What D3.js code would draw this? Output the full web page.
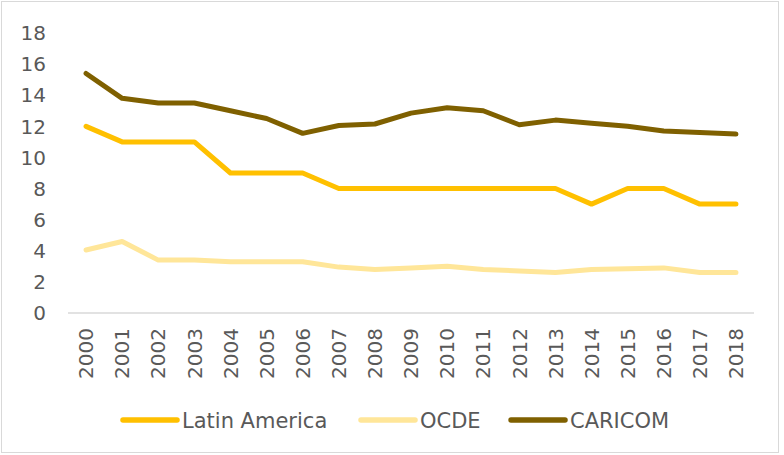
<!DOCTYPE html>
<html>
<head>
<meta charset="utf-8">
<script src="https://cdn.jsdelivr.net/npm/d3@7"></script>
<style>
  body { margin: 0; background: #fff; }
  text { font-family: "DejaVu Sans", Verdana, sans-serif; fill: #595959; }
</style>
</head>
<body>
<div id="chart"></div>
<script>
var years = ["2000","2001","2002","2003","2004","2005","2006","2007","2008","2009",
             "2010","2011","2012","2013","2014","2015","2016","2017","2018"];
var latinAmerica = [12, 11, 11, 11, 9, 9, 9, 8, 8, 8, 8, 8, 8, 8, 7, 8, 8, 7, 7];
var ocde = [4.05, 4.6, 3.4, 3.4, 3.3, 3.3, 3.3, 2.95, 2.8, 2.9, 3.0, 2.8, 2.7, 2.6, 2.8, 2.85, 2.9, 2.6, 2.6];
var caricom = [15.4, 13.8, 13.5, 13.5, 13.0, 12.5, 11.55, 12.05, 12.15, 12.85, 13.2, 13.0, 12.1, 12.4, 12.2, 12.0, 11.7, 11.6, 11.5];
var yTicks = [0, 2, 4, 6, 8, 10, 12, 14, 16, 18];

var seriesNames = ["Latin America", "OCDE", "CARICOM"];
var seriesColors = ["#FFC000", "#FFE699", "#7F6000"];
var seriesData = [latinAmerica, ocde, caricom];

var W = 784, H = 455;

var svg = d3.select("#chart").append("svg")
    .attr("width", W)
    .attr("height", H);

// chart frame
svg.append("rect")
    .attr("x", 1.5).attr("y", 1.5)
    .attr("width", 777).attr("height", 451)
    .attr("fill", "#fff")
    .attr("stroke", "#D9D9D9");

var xScale = d3.scaleBand()
    .domain(years)
    .range([68, 754]);

var yScale = d3.scaleLinear()
    .domain([0, 18])
    .range([313, 33]);

// y axis labels (no line)
svg.append("g")
    .selectAll("text")
    .data(yTicks).enter()
    .append("text")
    .attr("x", 46)
    .attr("y", function(d){ return yScale(d); })
    .attr("dy", "0.36em")
    .style("text-anchor", "end")
    .style("font-size", "20px")
    .text(function(d){ return d; });

// baseline
svg.append("line")
    .attr("x1", 68).attr("x2", 754)
    .attr("y1", yScale(0)).attr("y2", yScale(0))
    .attr("stroke", "#D9D9D9")
    .attr("stroke-width", 1.3);

// x labels, rotated
svg.append("g")
    .selectAll("text")
    .data(years).enter()
    .append("text")
    .attr("transform", function(d){
        return "translate(" + (xScale(d) + xScale.bandwidth() / 2) + ",328) rotate(-90)";
    })
    .attr("dy", "0.36em")
    .style("text-anchor", "end")
    .style("font-size", "20px")
    .text(function(d){ return d; });

var line = d3.line()
    .x(function(d, i){ return xScale(years[i]) + xScale.bandwidth() / 2; })
    .y(function(d){ return yScale(d); });

svg.append("g")
    .selectAll("path")
    .data(seriesData).enter()
    .append("path")
    .attr("d", line)
    .attr("fill", "none")
    .attr("stroke", function(d, i){ return seriesColors[i]; })
    .attr("stroke-width", 5)
    .attr("stroke-linejoin", "round")
    .attr("stroke-linecap", "round");

// legend
var legendX = [123, 361, 511];
var legend = svg.append("g")
    .selectAll("g")
    .data(seriesNames).enter()
    .append("g")
    .attr("transform", function(d, i){ return "translate(" + legendX[i] + ",420)"; });

legend.append("line")
    .attr("x1", 0).attr("x2", 54)
    .attr("y1", 0).attr("y2", 0)
    .attr("stroke", function(d, i){ return seriesColors[i]; })
    .attr("stroke-width", 5.5)
    .attr("stroke-linecap", "round");

legend.append("text")
    .attr("x", 59)
    .attr("dy", "0.36em")
    .style("font-size", "21px")
    .text(function(d){ return d; });
</script>
</body>
</html>
